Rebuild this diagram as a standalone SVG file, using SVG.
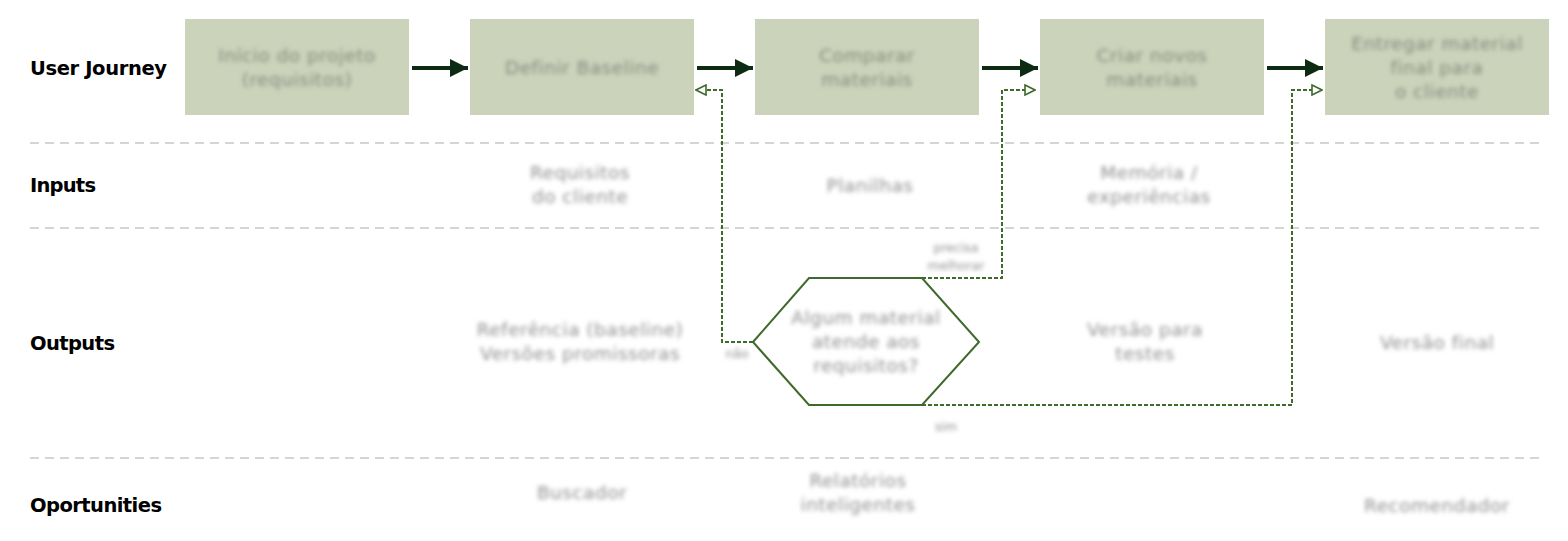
<svg xmlns="http://www.w3.org/2000/svg" width="1568" height="541" viewBox="0 0 1568 541">
  <defs>
    <style>
      .lane { font-family: "DejaVu Sans", "Liberation Sans", sans-serif; font-weight: 700; font-size: 19.5px; fill: #000; }
      .step { fill: #cbd3bb; }
      .lbl { font-family: "DejaVu Sans", "Liberation Sans", sans-serif; font-size: 18.5px; letter-spacing: 0.5px; fill: #838a7b; text-anchor: middle; }
      .out { font-family: "DejaVu Sans", "Liberation Sans", sans-serif; font-size: 18.5px; letter-spacing: 0.5px; fill: #8f8f8f; text-anchor: middle; }
      .small { font-family: "DejaVu Sans", "Liberation Sans", sans-serif; font-size: 12.5px; fill: #8f8f8f; text-anchor: middle; }
      .divider { stroke: #c6c9c3; stroke-width: 1.5; stroke-dasharray: 9 6; fill: none; }
      .flow { stroke: #0c2b12; stroke-width: 4; fill: none; }
      .branch { stroke: #3f6a2c; stroke-width: 2; stroke-dasharray: 4 2; fill: none; }
      .decision { fill: #fff; stroke: #3f6a2c; stroke-width: 2; }
    </style>
    <filter id="soft" x="-10%" y="-30%" width="120%" height="160%">
      <feGaussianBlur stdDeviation="2.3"/>
    </filter>
    <marker id="solidHead" viewBox="0 0 10 10" refX="10" refY="5" markerWidth="5" markerHeight="4.5" markerUnits="strokeWidth" orient="auto">
      <path d="M0,0 L10,5 L0,10 Z" fill="#0c2b12"/>
    </marker>
    <marker id="openHead" viewBox="0 0 12 12" refX="11" refY="6" markerWidth="6" markerHeight="6" markerUnits="strokeWidth" orient="auto">
      <path d="M1,1 L11,6 L1,11 Z" fill="#fff" stroke="#3f6a2c" stroke-width="1.6" stroke-dasharray="none"/>
    </marker>
  </defs>

  <!-- swimlane labels -->
  <g id="lanes">
    <text class="lane" x="30" y="75" textLength="137">User Journey</text>
    <text class="lane" x="30" y="192" textLength="66">Inputs</text>
    <text class="lane" x="30" y="350" textLength="85">Outputs</text>
    <text class="lane" x="30" y="512" textLength="132">Oportunities</text>
  </g>

  <!-- lane dividers -->
  <g id="dividers">
    <line class="divider" x1="30" y1="143" x2="1545" y2="143"/>
    <line class="divider" x1="30" y1="228" x2="1545" y2="228"/>
    <line class="divider" x1="30" y1="458" x2="1545" y2="458"/>
  </g>

  <!-- connectors -->
  <g id="connectors">
    <line class="flow" x1="412" y1="68" x2="468" y2="68" marker-end="url(#solidHead)"/>
    <line class="flow" x1="697" y1="68" x2="753" y2="68" marker-end="url(#solidHead)"/>
    <line class="flow" x1="982" y1="68" x2="1038" y2="68" marker-end="url(#solidHead)"/>
    <line class="flow" x1="1267" y1="68" x2="1323" y2="68" marker-end="url(#solidHead)"/>
    <path class="branch" d="M753,342 H722 V90 H696" marker-end="url(#openHead)"/>
    <path class="branch" d="M922,278 H1002 V90 H1035" marker-end="url(#openHead)"/>
    <path class="branch" d="M922,405 H1292 V90 H1322" marker-end="url(#openHead)"/>
  </g>

  <!-- journey steps -->
  <g id="step-inicio">
    <rect class="step" x="185" y="19" width="224" height="96"/>
    <text class="lbl" filter="url(#soft)" x="297" y="62">Início do projeto<tspan x="297" dy="24">(requisitos)</tspan></text>
  </g>
  <g id="step-baseline">
    <rect class="step" x="470" y="19" width="224" height="96"/>
    <text class="lbl" filter="url(#soft)" x="582" y="74">Definir Baseline</text>
  </g>
  <g id="step-comparar">
    <rect class="step" x="755" y="19" width="224" height="96"/>
    <text class="lbl" filter="url(#soft)" x="867" y="62">Comparar<tspan x="867" dy="24">materiais</tspan></text>
  </g>
  <g id="step-criar">
    <rect class="step" x="1040" y="19" width="224" height="96"/>
    <text class="lbl" filter="url(#soft)" x="1152" y="62">Criar novos<tspan x="1152" dy="24">materiais</tspan></text>
  </g>
  <g id="step-entregar">
    <rect class="step" x="1325" y="19" width="224" height="96"/>
    <text class="lbl" filter="url(#soft)" x="1437" y="50">Entregar material<tspan x="1437" dy="24">final para</tspan><tspan x="1437" dy="24">o cliente</tspan></text>
  </g>

  <!-- inputs -->
  <g id="input-requisitos">
    <text class="out" filter="url(#soft)" x="580" y="179">Requisitos<tspan x="580" dy="24">do cliente</tspan></text>
  </g>
  <g id="input-planilhas">
    <text class="out" filter="url(#soft)" x="870" y="192">Planilhas</text>
  </g>
  <g id="input-memoria">
    <text class="out" filter="url(#soft)" x="1149" y="179">Memória /<tspan x="1149" dy="24">experiências</tspan></text>
  </g>

  <!-- outputs -->
  <g id="output-referencia">
    <text class="out" filter="url(#soft)" x="580" y="336">Referência (baseline)<tspan x="580" dy="24">Versões promissoras</tspan></text>
  </g>
  <g id="decision">
    <polygon class="decision" points="753,342 809,278 922,278 979,342 922,405 809,405"/>
    <text class="out" filter="url(#soft)" x="866" y="324">Algum material<tspan x="866" dy="24">atende aos</tspan><tspan x="866" dy="24">requisitos?</tspan></text>
  </g>
  <g id="branch-labels">
    <text class="small" filter="url(#soft)" x="956" y="252">precisa<tspan x="956" dy="18">melhorar</tspan></text>
    <text class="small" filter="url(#soft)" x="737" y="358">não</text>
    <text class="small" filter="url(#soft)" x="946" y="431">sim</text>
  </g>
  <g id="output-testes">
    <text class="out" filter="url(#soft)" x="1145" y="336">Versão para<tspan x="1145" dy="24">testes</tspan></text>
  </g>
  <g id="output-final">
    <text class="out" filter="url(#soft)" x="1437" y="349">Versão final</text>
  </g>

  <!-- opportunities -->
  <g id="op-buscador">
    <text class="out" filter="url(#soft)" x="582" y="499">Buscador</text>
  </g>
  <g id="op-relatorios">
    <text class="out" filter="url(#soft)" x="858" y="487">Relatórios<tspan x="858" dy="24">inteligentes</tspan></text>
  </g>
  <g id="op-recomendador">
    <text class="out" filter="url(#soft)" x="1437" y="512">Recomendador</text>
  </g>
</svg>
